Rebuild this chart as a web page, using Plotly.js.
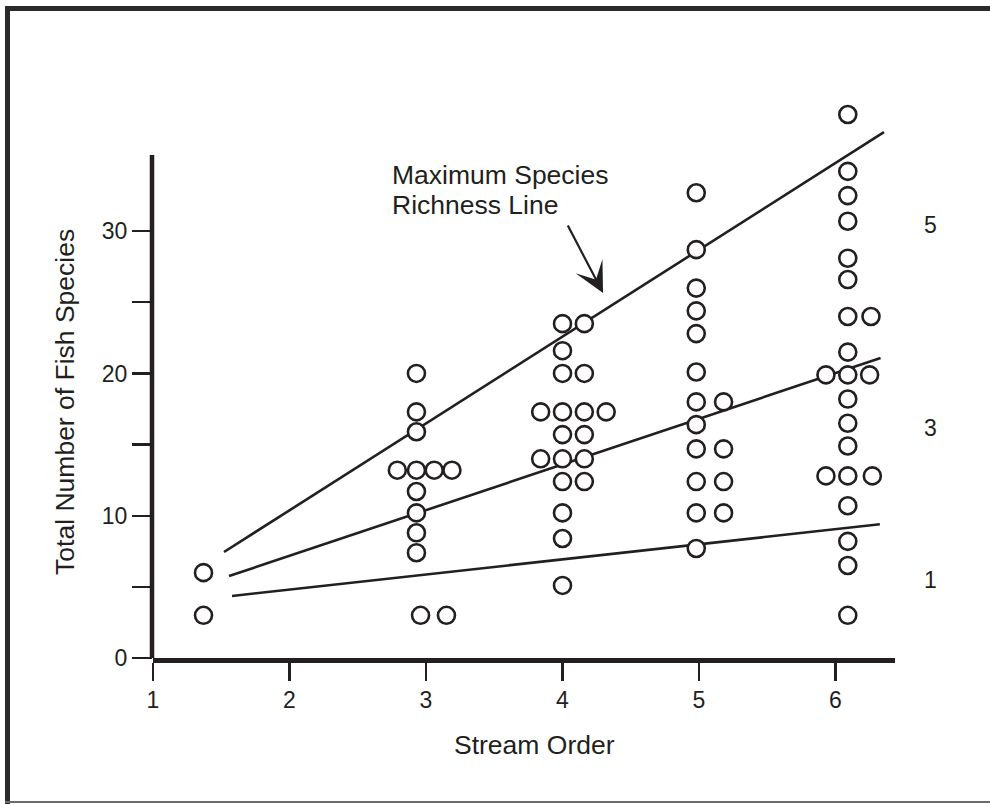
<!DOCTYPE html>
<html>
<head>
<meta charset="utf-8">
<script src="https://cdn.plot.ly/plotly-3.0.1.min.js"></script>
<style>
  html, body { margin: 0; padding: 0; background: #ffffff; }
  #chart { width: 990px; height: 804px; }
</style>
</head>
<body>
<div id="chart"></div>
<script>
// ---- data ----
// stream order 1 (plotted slightly right of tick 1)
const order1X = [1.37, 1.37];
const order1Y = [6.0, 3.0];
// stream order 3
const order3X = [2.93, 2.93, 2.93, 2.79, 2.93, 3.06, 3.19, 2.93, 2.93, 2.93, 2.93, 2.96, 3.15];
const order3Y = [20.0, 17.3, 15.9, 13.2, 13.2, 13.2, 13.2, 11.7, 10.2, 8.8, 7.4, 3.0, 3.0];
// stream order 4
const order4X = [4.00, 4.16, 4.00, 4.00, 4.16, 3.84, 4.00, 4.16, 4.32, 4.00, 4.16, 3.84, 4.00, 4.16, 4.00, 4.16, 4.00, 4.00, 4.00];
const order4Y = [23.5, 23.5, 21.6, 20.0, 20.0, 17.3, 17.3, 17.3, 17.3, 15.7, 15.7, 14.0, 14.0, 14.0, 12.4, 12.4, 10.2, 8.4, 5.1];
// stream order 5
const order5X = [4.98, 4.98, 4.98, 4.98, 4.98, 4.98, 4.98, 5.18, 4.98, 4.98, 5.18, 4.98, 5.18, 4.98, 5.18, 4.98];
const order5Y = [32.7, 28.7, 26.0, 24.4, 22.8, 20.1, 18.0, 18.0, 16.4, 14.7, 14.7, 12.4, 12.4, 10.2, 10.2, 7.7];
// stream order 6
const order6X = [6.09, 6.09, 6.09, 6.09, 6.09, 6.09, 6.09, 6.26, 6.09, 5.93, 6.09, 6.25, 6.09, 6.09, 6.09, 5.93, 6.09, 6.27, 6.09, 6.09, 6.09, 6.09];
const order6Y = [38.2, 34.2, 32.5, 30.7, 28.1, 26.6, 24.0, 24.0, 21.5, 19.9, 19.9, 19.9, 18.2, 16.5, 14.9, 12.8, 12.8, 12.8, 10.7, 8.2, 6.5, 3.0];

// fitted lines (end points)
const line5X = [1.52, 6.355];
const line5Y = [7.45, 36.96];
const line3X = [1.557, 6.33];
const line3Y = [5.76, 21.08];
const line1X = [1.579, 6.325];
const line1Y = [4.36, 9.4];

const lineLabels = ['5', '3', '1'];
const lineLabelY = [30.4, 16.2, 5.5];

const xTicks = [1, 2, 3, 4, 5, 6];
const yTicks = [0, 5, 10, 15, 20, 25, 30];
const yTickText = ['0', '', '10', '', '20', '', '30'];
const yAxisTop = 35.35;   // the drawn y axis stops here

// ---- styling ----
const INK = '#231f20';
const FONT = '"Liberation Sans", Arial, Helvetica, sans-serif';

const allX = [].concat(order1X, order3X, order4X, order5X, order6X);
const allY = [].concat(order1Y, order3Y, order4Y, order5Y, order6Y);

function lineTrace(xs, ys) {
  return {
    x: xs, y: ys, type: 'scatter', mode: 'lines',
    line: { color: INK, width: 2.6 },
    cliponaxis: false, hoverinfo: 'skip', showlegend: false
  };
}

const traces = [
  lineTrace(line5X, line5Y),
  lineTrace(line3X, line3Y),
  lineTrace(line1X, line1Y),
  {
    x: allX, y: allY, type: 'scatter', mode: 'markers',
    marker: { symbol: 'circle', size: 17, color: '#ffffff', line: { color: INK, width: 2.6 } },
    cliponaxis: false, showlegend: false
  }
];

// plot area geometry in pixels
const W = 990, H = 804;
const L = 153, R = 95, B = 146;
const yMax = 39.5, pxPerY = 14.23, pxPerX = 136.5;
const pw = W - L - R;
const ph = Math.round(yMax * pxPerY);
const T = H - B - ph;
const px = v => (v - L) / pw;
const py = v => (H - B - v) / ph;

const annotations = [
  {
    xref: 'x', yref: 'y', x: 2.736, y: 33.94, xanchor: 'left', yanchor: 'middle',
    align: 'left', showarrow: false, text: 'Maximum Species',
    font: { family: FONT, size: 26.5, color: INK }
  },
  {
    xref: 'x', yref: 'y', x: 2.736, y: 31.83, xanchor: 'left', yanchor: 'middle',
    align: 'left', showarrow: false, text: 'Richness Line',
    font: { family: FONT, size: 26.5, color: INK }
  },
  {
    xref: 'x', yref: 'y', x: 4.297, y: 25.65, ax: -36, ay: -69,
    text: '', showarrow: true, arrowhead: 3, arrowsize: 2.3, arrowwidth: 2.2, arrowcolor: INK
  },
  {
    xref: 'paper', yref: 'y', x: px(65), y: 18.0, xanchor: 'center', yanchor: 'middle',
    textangle: -90, showarrow: false,
    text: 'Total Number of Fish Species',
    font: { family: FONT, size: 26.5, color: INK }
  },
  {
    xref: 'paper', yref: 'paper', x: px(534), y: py(745), xanchor: 'center', yanchor: 'middle',
    showarrow: false, text: 'Stream Order',
    font: { family: FONT, size: 26.5, color: INK }
  }
];
lineLabels.forEach((t, i) => {
  annotations.push({
    xref: 'paper', yref: 'y', x: px(930), y: lineLabelY[i], xanchor: 'center', yanchor: 'middle',
    showarrow: false, text: t, font: { family: FONT, size: 23, color: INK }
  });
});

const layout = {
  width: W, height: H,
  margin: { l: L, r: R, t: T, b: B, pad: 0 },
  paper_bgcolor: '#ffffff', plot_bgcolor: '#ffffff',
  font: { family: FONT, size: 23, color: INK },
  showlegend: false,
  xaxis: {
    range: [1, 1 + pw / pxPerX],
    tickvals: xTicks, ticktext: xTicks.map(String),
    ticks: 'outside', ticklen: 18, tickwidth: 2.4, tickcolor: INK,
    showline: true, linewidth: 4.5, linecolor: INK,
    showgrid: false, zeroline: false,
    tickfont: { family: FONT, size: 23, color: INK }
  },
  yaxis: {
    range: [0, yMax],
    tickvals: yTicks, ticktext: yTickText,
    ticks: 'outside', ticklen: 20, tickwidth: 2.4, tickcolor: INK,
    showline: false,
    showgrid: false, zeroline: false,
    tickfont: { family: FONT, size: 23, color: INK }
  },
  annotations: annotations,
  shapes: [
    // y axis line, stopping below the top of the plotting range
    { type: 'line', xref: 'paper', yref: 'y', x0: px(152), x1: px(152), y0: -0.3, y1: yAxisTop,
      line: { color: INK, width: 4.5 } },
    // page frame
    { type: 'rect', xref: 'paper', yref: 'paper', x0: px(5), x1: px(990), y0: py(6), y1: py(11),
      fillcolor: '#2b2b2b', line: { width: 0 } },
    { type: 'rect', xref: 'paper', yref: 'paper', x0: px(5), x1: px(10), y0: py(6), y1: py(804),
      fillcolor: '#2b2b2b', line: { width: 0 } },
    { type: 'rect', xref: 'paper', yref: 'paper', x0: px(5), x1: px(990), y0: py(801), y1: py(803),
      fillcolor: '#6b6b6b', line: { width: 0 } }
  ]
};

Plotly.newPlot('chart', traces, layout, { displayModeBar: false, staticPlot: true });
</script>
</body>
</html>
